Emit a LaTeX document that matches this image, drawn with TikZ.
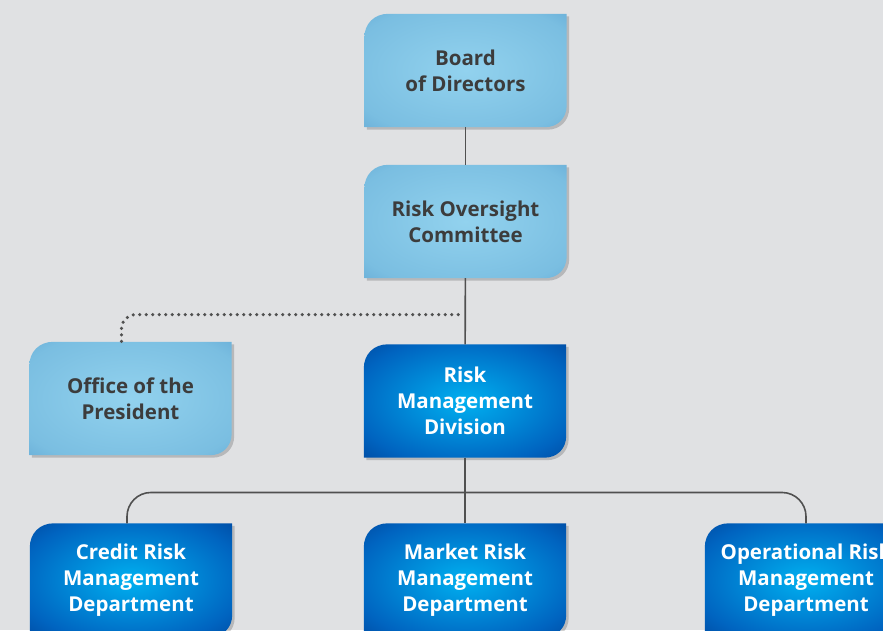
\documentclass[tikz,border=0pt]{standalone}
\usepackage{fontspec}
\setmainfont{Open Sans}
\usetikzlibrary{calc,backgrounds}

\definecolor{pagebg}{RGB}{224,225,227}
\definecolor{linegray}{RGB}{80,80,80}
\definecolor{txtgray}{RGB}{60,60,60}
\definecolor{paleC}{RGB}{146,210,238}
\definecolor{paleM}{RGB}{122,190,225}
\definecolor{paleE}{RGB}{78,148,200}
\definecolor{deepC}{RGB}{0,176,240}
\definecolor{deepM}{RGB}{0,100,192}
\definecolor{deepE}{RGB}{0,40,122}

\pgfdeclareradialshading{paleshade}{\pgfpoint{0bp}{0bp}}{color(0bp)=(paleC); color(30bp)=(paleM); color(50bp)=(paleE); color(72bp)=(paleE)}
\pgfdeclareradialshading{deepshade}{\pgfpoint{0bp}{0bp}}{color(0bp)=(deepC); color(28bp)=(deepM); color(50bp)=(deepE); color(72bp)=(deepE)}

\tikzset{
    unit/.style={minimum width=202pt, minimum height=113pt, inner sep=0pt, align=center, font=\bfseries\fontsize{20.5}{26}\selectfont},
    pale/.style={unit, text=txtgray},
    deep/.style={unit, text=white},
    palefill/.style={shading=paleshade},
    deepfill/.style={shading=deepshade},
    link/.style={draw=linegray, line width=1.6pt},
    dotlink/.style={draw=linegray, line width=3.5pt, line cap=round, dash pattern=on 0pt off 6.5pt}
}

% box outline: top left and bottom right corners rounded
\newcommand\unitpath[2]{($(#1.north east)+(#2)$) -- ($(#1.north west)+(24,0)+(#2)$) .. controls ($(#1.north west)+(10,0)+(#2)$) and ($(#1.north west)+(0,10)+(#2)$) .. ($(#1.north west)+(0,24)+(#2)$) -- ($(#1.south west)+(#2)$) -- ($(#1.south east)+(-22,0)+(#2)$) .. controls ($(#1.south east)+(-9,0)+(#2)$) and ($(#1.south east)+(0,-9)+(#2)$) .. ($(#1.south east)+(0,-22)+(#2)$) -- cycle}

\begin{document}
\begin{tikzpicture}[x=1pt,y=-1pt]
    \useasboundingbox (0,0) rectangle (883,630);

    \node (board) at (465.5,70.5) [pale] {Board\\of Directors};
    \node (roc) at (465.5,221.5) [pale] {Risk Oversight\\Committee};
    \node (office) at (130.5,398.5) [pale] {Office of the\\President};
    \node (rmd) at (465,401) [deep] {Risk\\Management\\Division};
    \node (credit) at (131,580) [deep] {Credit Risk\\Management\\Department};
    \node (market) at (465,580) [deep] {Market Risk\\Management\\Department};
    \node (oper) at (806,580) [deep] {Operational Risk\\Management\\Department};

    \begin{scope}[on background layer]
        \fill[pagebg] (0,0) rectangle (883,630);
        \foreach \n/\s in {board/palefill,roc/palefill,office/palefill,rmd/deepfill,credit/deepfill,market/deepfill,oper/deepfill}{
            \fill[black,opacity=0.18] \unitpath{\n}{2.5,2.5};
            \path[\s] \unitpath{\n}{0,0};
        }
    \end{scope}

    \coordinate (tap) at ($(roc.south)!0.55!(rmd.north)$);
    \coordinate (bus) at ($(rmd.south)!0.53!(market.north)$);

    \draw[link] (board) -- (roc);
    \draw[link] (roc) -- (rmd);
    \draw[dotlink, rounded corners=14pt] ([xshift=-7pt]tap) -| ([xshift=-9pt]office.north);
    \draw[link] (rmd) -- (market);
    \draw[link, rounded corners=24pt] ([xshift=-4pt]credit.north) |- (bus) -| (oper.north);
\end{tikzpicture}
\end{document}
